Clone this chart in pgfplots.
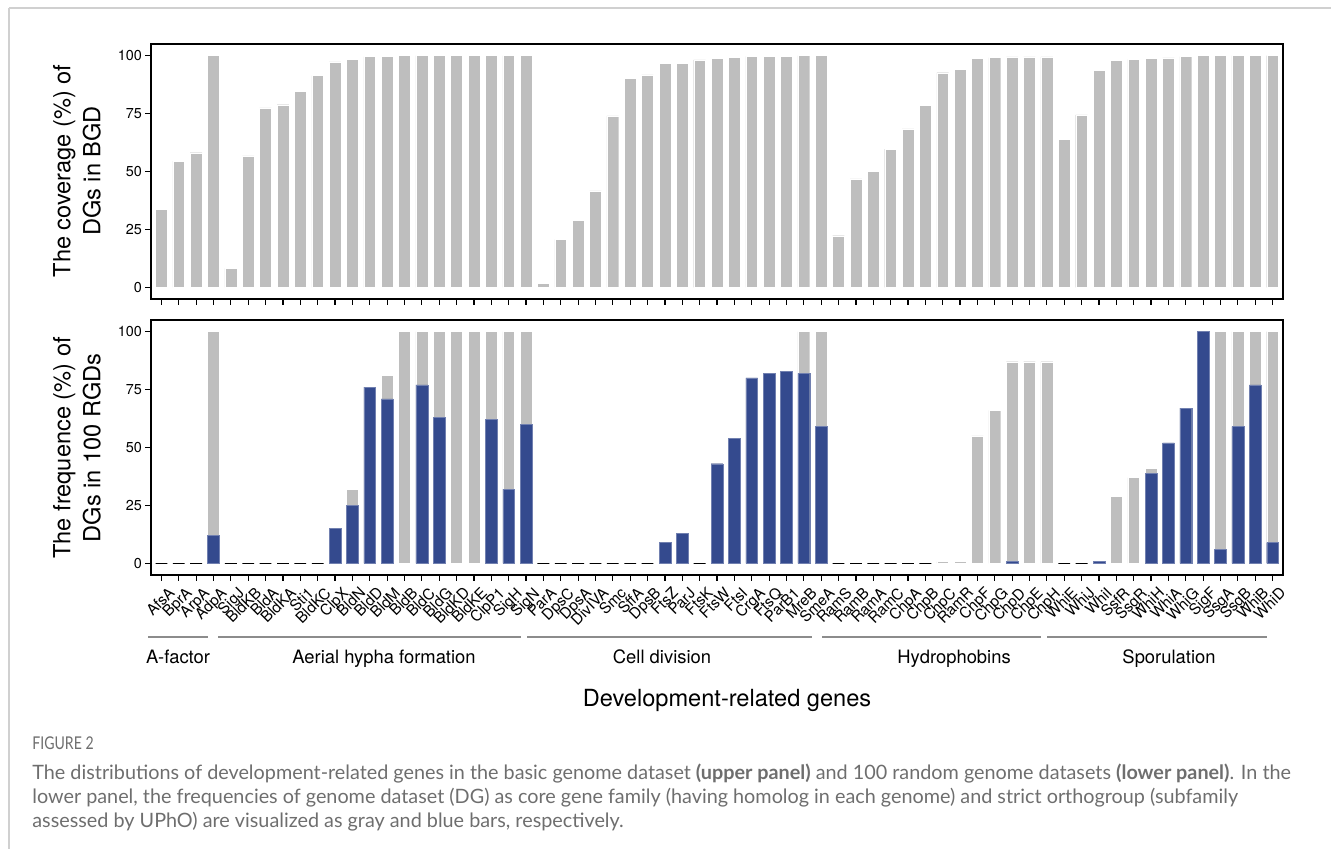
\documentclass[border=0pt]{standalone}
\usepackage{fontspec}
\setmainfont{TeX Gyre Heros}
\newfontfamily\capfont{Lato}
\usepackage{pgfplots}
\pgfplotsset{compat=1.18}
\definecolor{bargray}{HTML}{BEBEBE}
\definecolor{barblue}{HTML}{344A8E}
\definecolor{framegray}{HTML}{D0D0D0}
\definecolor{grpgray}{HTML}{8C8C8C}
\definecolor{capgray}{HTML}{6E6E6E}
\pgfplotsset{
  panel/.style={
    scale only axis, width=566pt, height=127.5pt,
    xmin=0.4, xmax=65.6, ymin=-5, ymax=105,
    xtick={1,...,65}, ytick={0,25,50,75,100},
    tick pos=left, tick align=outside,
    major tick length=2.8pt,
    tick style={black, line width=0.6pt},
    axis line style={line width=1pt},
    /pgf/number format/assume math mode=true,
    yticklabel style={font=\fontsize{7.2}{8}\selectfont, inner sep=1.5pt},
    clip=false,
  },
  gbar/.style={ybar, bar width=0.68, bar shift=0pt, fill=bargray, draw=white, line width=0.2pt},
  bbar/.style={ybar, bar width=0.68, bar shift=0pt, fill=barblue, draw=barblue!70!white, line width=0.2pt},
}
\begin{document}
\begin{tikzpicture}
\path[use as bounding box] (0,0) rectangle (665.5pt,-424.5pt);
\draw[framegray, line width=0.6pt] (4.5pt,-4pt) -- (665.5pt,-4pt);
\draw[framegray, line width=0.6pt] (4.5pt,-4pt) -- (4.5pt,-424.5pt);

% upper panel
\begin{axis}[panel, at={(75.5pt,-22pt)}, anchor=north west, xticklabels={}]
\addplot[gbar] coordinates {
(1,33.6) (2,54.5) (3,58.1) (4,100) (5,8.2) (6,56.7) (7,77.4) (8,78.8) (9,84.7) (10,91.4)
(11,97.3) (12,98.4) (13,99.6) (14,99.7) (15,100) (16,100) (17,100) (18,100) (19,100) (20,100)
(21,100) (22,100) (23,1.9) (24,20.7) (25,29.0) (26,41.6) (27,74.0) (28,90.3) (29,91.7) (30,96.6)
(31,96.6) (32,98.1) (33,98.9) (34,99.1) (35,99.7) (36,99.7) (37,99.7) (38,100) (39,100) (40,22.3)
(41,46.8) (42,50.2) (43,59.7) (44,68.4) (45,78.5) (46,92.6) (47,94.0) (48,98.9) (49,99.1) (50,99.4)
(51,99.4) (52,99.4) (53,63.9) (54,74.4) (55,93.6) (56,97.9) (57,98.4) (58,98.7) (59,99.0) (60,99.6)
(61,100) (62,100) (63,100) (64,100) (65,100)};
\end{axis}
\node[rotate=90, align=center, font=\fontsize{11.8}{15}\selectfont] at (38.5pt,-85.5pt) {The coverage (\%) of\\DGs in BGD};

% lower panel
\begin{axis}[panel, at={(75.5pt,-160pt)}, anchor=north west,
  xticklabels={AfsA,BprA,ArpA,AdpA,SigJ,BldKB,BldA,BldKA,Sti1,BldKC,ClpX,BldN,BldD,BldM,BldB,BldC,BldG,BldKD,BldKE,ClpP1,SigH,SigN,ParA,DpsC,DpsA,DivIVA,Smc,SffA,DpsB,FtsZ,ParJ,FtsK,FtsW,FtsI,CrgA,FtsQ,ParB1,MreB,SmeA,RamS,RamB,RamA,RamC,ChpA,ChpB,ChpC,RamR,ChpF,ChpG,ChpD,ChpE,ChpH,WhiE,WhiJ,WhiI,SsfR,SsgR,WhiH,WhiA,WhiG,SigF,SsgA,SsgB,WhiB,WhiD},
  xticklabel style={font=\fontsize{7.6}{8}\selectfont, rotate=45, anchor=north east, inner sep=0.8pt, xshift=1.2pt, yshift=-3.2pt}]
\addplot[gbar] coordinates {
(4,100) (11,15) (12,32) (13,76) (14,81) (15,100) (16,100) (17,100) (18,100) (19,100) (20,100)
(21,100) (22,100) (30,9) (31,13) (33,43) (34,54) (35,80) (36,82) (37,83) (38,100) (39,100)
(46,0.8) (47,0.8) (48,55) (49,66) (50,87) (51,87) (52,87) (55,0.8) (56,29) (57,37) (58,41) (59,52) (60,67)
(61,100) (62,100) (63,100) (64,100) (65,100)};
\addplot[bbar] coordinates {
(4,12) (11,15) (12,25) (13,76) (14,71) (16,77) (17,63) (20,62) (21,32) (22,60)
(30,9) (31,13) (33,43) (34,54) (35,80) (36,82) (37,83) (38,82) (39,59)
(50,0.8) (55,0.8) (58,39) (59,52) (60,67) (61,100) (62,6) (63,59) (64,77) (65,9)};
\addplot[ybar, bar width=0.68, bar shift=0pt, draw=black, fill=none, line width=0.75pt] coordinates {
(1,0) (2,0) (3,0) (5,0) (6,0) (7,0) (8,0) (9,0) (10,0) (23,0) (24,0) (25,0) (26,0) (27,0) (28,0) (29,0)
(32,0) (40,0) (41,0) (42,0) (43,0) (44,0) (45,0) (53,0) (54,0)};
\end{axis}
\node[rotate=90, align=center, font=\fontsize{11.8}{15}\selectfont] at (38.5pt,-224pt) {The frequence (\%) of\\DGs in 100 RGDs};

% group brackets
\begin{scope}[grpgray, line width=1pt]
\draw (74pt,-318.5pt) -- (104pt,-318.5pt);
\draw (109pt,-318.5pt) -- (260.5pt,-318.5pt);
\draw (263.5pt,-318.5pt) -- (406pt,-318.5pt);
\draw (411pt,-318.5pt) -- (520.5pt,-318.5pt);
\draw (523.5pt,-318.5pt) -- (633.5pt,-318.5pt);
\end{scope}
\begin{scope}[every node/.style={anchor=base, font=\fontsize{9.2}{10}\selectfont, inner sep=0pt}]
\node at (89pt,-331.5pt) {A-factor};
\node at (192pt,-331.5pt) {Aerial hypha formation};
\node at (331pt,-331.5pt) {Cell division};
\node at (477pt,-331.5pt) {Hydrophobins};
\node at (584.5pt,-331.5pt) {Sporulation};
\end{scope}
\node[anchor=base, inner sep=0pt, font=\fontsize{11.8}{13}\selectfont] at (363.5pt,-353pt) {Development-related genes};

% caption
\begin{scope}[every node/.style={anchor=base west, inner sep=0pt, text=capgray}]
\node[font=\capfont\fontsize{8.8}{10}\selectfont] at (16pt,-374.5pt) {\scalebox{0.8}[1]{FIGURE 2}};
\node[font=\capfont\fontsize{9.9}{12}\selectfont] at (16pt,-389.5pt) {The distributions of development-related genes in the basic genome dataset \textbf{(upper panel)} and 100 random genome datasets \textbf{(lower panel)}. In the};
\node[font=\capfont\fontsize{9.9}{12}\selectfont] at (16pt,-401.5pt) {lower panel, the frequencies of genome dataset (DG) as core gene family (having homolog in each genome) and strict orthogroup (subfamily};
\node[font=\capfont\fontsize{9.9}{12}\selectfont] at (16pt,-413.5pt) {assessed by UPhO) are visualized as gray and blue bars, respectively.};
\end{scope}
\end{tikzpicture}
\end{document}
